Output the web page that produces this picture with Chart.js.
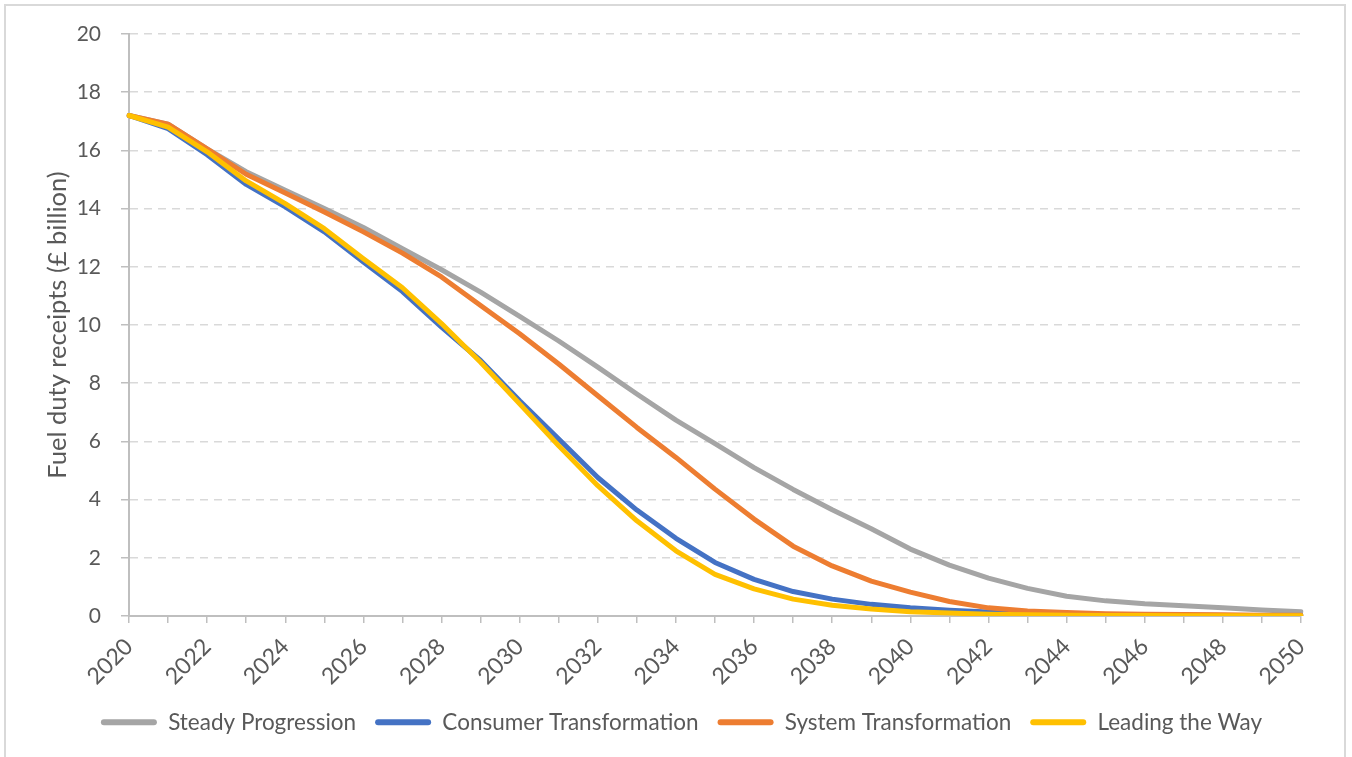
<!DOCTYPE html>
<html>
<head>
<meta charset="utf-8">
<script src="https://cdn.jsdelivr.net/npm/chart.js@4/dist/chart.umd.min.js"></script>
<style>
  html, body { margin: 0; padding: 0; background: #fff; }
  #wrap { position: relative; width: 1352px; height: 757px; overflow: hidden; }
  #frame { position: absolute; left: 4px; top: 4px; width: 1342px; height: 800px; border: 2px solid #d9d9d9; box-sizing: border-box; }
  #chart { position: absolute; left: 0; top: 0; }
</style>
</head>
<body>
<div id="wrap">
  <div id="frame"></div>
  <canvas id="chart" width="1352" height="757"></canvas>
</div>
<script>
// fuel duty receipts by scenario, £ billion per year
var years = [];
for (var yr = 2020; yr <= 2050; yr++) years.push(String(yr));

var steadyProgression = [17.2, 16.9, 16.05, 15.27, 14.63, 14.0, 13.35, 12.62, 11.9, 11.13,
  10.3, 9.45, 8.55, 7.63, 6.73, 5.92, 5.1, 4.35, 3.65, 3.0,
  2.3, 1.75, 1.3, 0.95, 0.68, 0.52, 0.42, 0.35, 0.28, 0.21, 0.15];
var consumerTransformation = [17.2, 16.75, 15.85, 14.83, 14.06, 13.2, 12.16, 11.15, 9.93, 8.78,
  7.4, 6.08, 4.76, 3.64, 2.67, 1.84, 1.26, 0.84, 0.58, 0.4,
  0.28, 0.2, 0.14, 0.1, 0.07, 0.05, 0.04, 0.03, 0.02, 0.02, 0.02];
var systemTransformation = [17.2, 16.9, 16.05, 15.18, 14.54, 13.88, 13.2, 12.47, 11.65, 10.67,
  9.7, 8.66, 7.57, 6.48, 5.45, 4.36, 3.33, 2.4, 1.72, 1.2,
  0.82, 0.5, 0.28, 0.17, 0.12, 0.08, 0.06, 0.05, 0.04, 0.03, 0.03];
var leadingTheWay = [17.2, 16.8, 15.95, 14.95, 14.17, 13.31, 12.28, 11.28, 10.05, 8.72,
  7.29, 5.85, 4.48, 3.27, 2.24, 1.43, 0.93, 0.58, 0.37, 0.24,
  0.15, 0.1, 0.06, 0.04, 0.03, 0.02, 0.02, 0.01, 0.01, 0.01, 0.01];

var FONT = 'Lato, "Open Sans", sans-serif';
var TEXT = '#595959';

function series(label, data, color, order) {
  return {
    label: label,
    data: data,
    borderColor: color,
    backgroundColor: color,
    borderWidth: 5,
    borderJoinStyle: 'round',
    borderCapStyle: 'round',
    tension: 0,
    pointRadius: 0,
    fill: false,
    order: order
  };
}

new Chart(document.getElementById('chart'), {
  type: 'line',
  data: {
    labels: years,
    datasets: [
      series('Steady Progression', steadyProgression, '#a5a5a5', 4),
      series('Consumer Transformation', consumerTransformation, '#4472c4', 3),
      series('System Transformation', systemTransformation, '#ed7d31', 2),
      series('Leading the Way', leadingTheWay, '#ffc000', 1)
    ]
  },
  options: {
    responsive: false,
    animation: false,
    layout: { padding: { left: 11, top: 34, right: 0, bottom: 13.5 } },
    plugins: {
      tooltip: { enabled: false },
      legend: {
        position: 'bottom',
        labels: {
          color: TEXT,
          font: { family: FONT, size: 22.5 },
          boxWidth: 56,
          boxHeight: 6,
          useBorderRadius: true,
          borderRadius: 3,
          padding: 19,
          sort: function (a, b) { return a.datasetIndex - b.datasetIndex; },
          generateLabels: function (chart) {
            return Chart.defaults.plugins.legend.labels.generateLabels(chart).map(function (l) {
              l.lineWidth = 0;
              l.fillStyle = l.strokeStyle;
              return l;
            });
          }
        }
      }
    },
    scales: {
      x: {
        ticks: {
          autoSkip: false,
          maxRotation: 45,
          minRotation: 45,
          color: TEXT,
          font: { family: FONT, size: 23 },
          padding: 10,
          callback: function (v, i) { return i % 2 === 0 ? years[i] : ''; }
        },
        grid: { drawOnChartArea: false, color: '#bfbfbf', lineWidth: 1.5, tickLength: 7 },
        border: { color: '#bfbfbf', width: 2 },
        afterFit: function (s) { s.height = 76; }
      },
      y: {
        min: 0,
        max: 20,
        ticks: {
          stepSize: 2,
          color: TEXT,
          font: { family: FONT, size: 21 },
          padding: 20
        },
        grid: {
          color: '#d9d9d9',
          lineWidth: 1.5,
          tickColor: '#bfbfbf',
          tickLength: 8,
          tickBorderDash: []
        },
        border: { color: '#bfbfbf', width: 2, dash: [8, 6] },
        title: {
          display: true,
          text: 'Fuel duty receipts (£ billion)',
          color: TEXT,
          font: { family: FONT, size: 25.5 },
          padding: { top: 31, bottom: 0 }
        },
        afterFit: function (s) { s.width = 118; }
      },
      // empty right-hand gutter so the plot stops short of the frame
      gutter: {
        position: 'right',
        display: true,
        ticks: { display: false },
        grid: { display: false },
        border: { display: false },
        afterFit: function (s) { s.width = 51; }
      }
    }
  }
});
</script>
</body>
</html>
